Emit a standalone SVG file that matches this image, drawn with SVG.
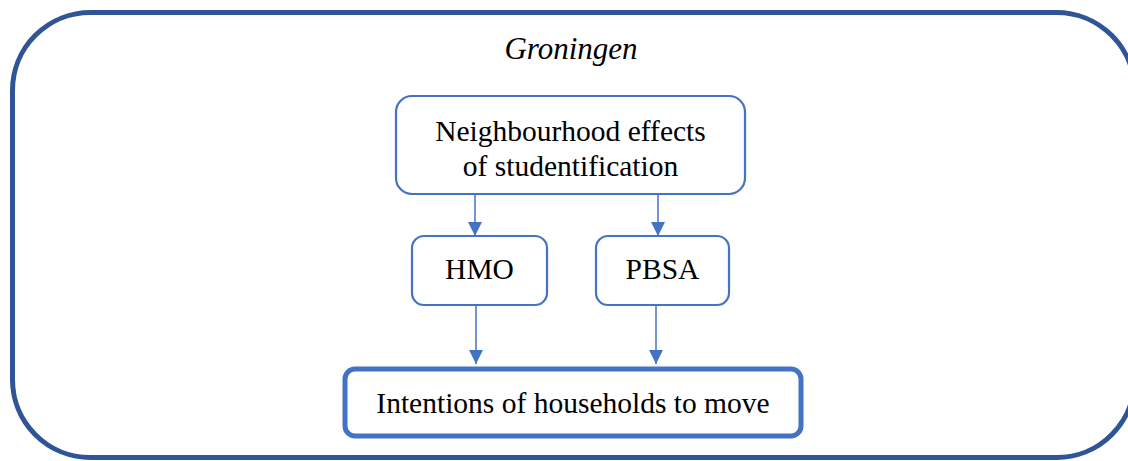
<svg xmlns="http://www.w3.org/2000/svg" width="1128" height="461" viewBox="0 0 1128 461">
<style>
.node{fill:#fff;stroke:#4472C4;stroke-width:2.2}
.t{font-family:"Liberation Serif","Times New Roman",serif;font-size:29.5px;fill:#000;text-anchor:middle}
.conn{stroke:#4472C4;stroke-width:1.5;fill:none}
</style>
<defs>
<marker id="ah" markerUnits="userSpaceOnUse" markerWidth="14" markerHeight="15" refX="14" refY="7" orient="auto">
<path d="M0,0 L14,7 L0,14 Z" fill="#4472C4"/>
</marker>
</defs>
<rect id="frame" x="12.5" y="12.5" width="1122" height="445" rx="78" ry="78" fill="none" stroke="#2F5597" stroke-width="5"/>
<text class="t" x="571" y="59" font-style="italic" style="font-size:31px">Groningen</text>
<g id="connectors">
<line class="conn" x1="475" y1="195" x2="475" y2="236" marker-end="url(#ah)"/>
<line class="conn" x1="658" y1="195" x2="658" y2="236" marker-end="url(#ah)"/>
<line class="conn" x1="476" y1="306" x2="476" y2="364" marker-end="url(#ah)"/>
<line class="conn" x1="656" y1="306" x2="656" y2="364" marker-end="url(#ah)"/>
</g>
<g id="neighbourhood">
<rect class="node" x="396" y="96" width="349" height="98" rx="16"/>
<text class="t" x="570.5" y="141">Neighbourhood effects</text>
<text class="t" x="570.5" y="176">of studentification</text>
</g>
<g id="hmo">
<rect class="node" x="412" y="236" width="135" height="69" rx="12"/>
<text class="t" x="479.5" y="279">HMO</text>
</g>
<g id="pbsa">
<rect class="node" x="596" y="236" width="133" height="69" rx="12"/>
<text class="t" x="662.5" y="279">PBSA</text>
</g>
<g id="intentions">
<rect x="345" y="369" width="456" height="67" rx="10" fill="#fff" stroke="#4472C4" stroke-width="5"/>
<text class="t" x="573" y="413">Intentions of households to move</text>
</g>
</svg>
